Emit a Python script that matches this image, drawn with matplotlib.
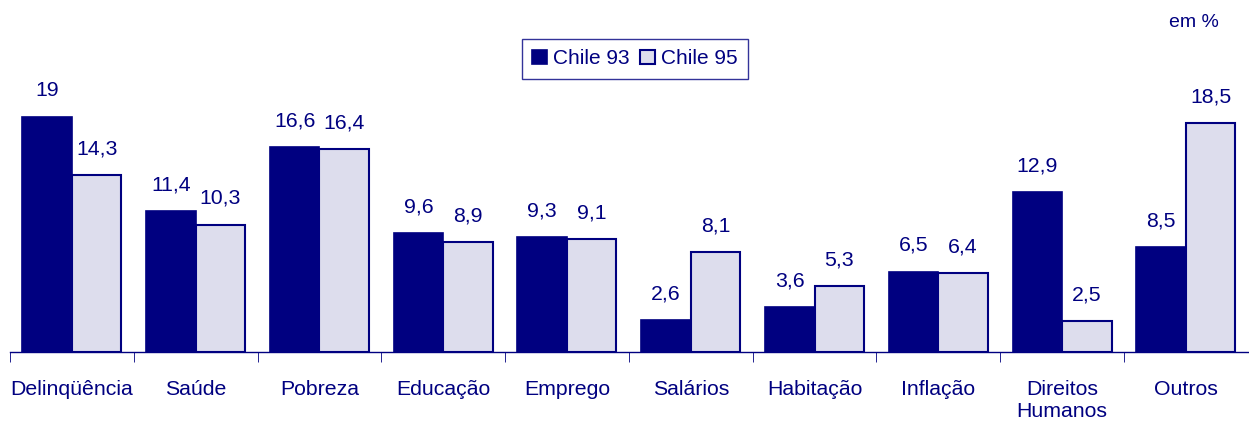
import matplotlib
matplotlib.use("Agg")
import matplotlib.pyplot as plt
import numpy as np

plt.rcParams['font.family'] = ['Liberation Sans', 'DejaVu Sans']

categorias = ['Delinqüência', 'Saúde', 'Pobreza', 'Educação', 'Emprego',
              'Salários', 'Habitação', 'Inflação', 'Direitos\nHumanos', 'Outros']
chile93 = [19, 11.4, 16.6, 9.6, 9.3, 2.6, 3.6, 6.5, 12.9, 8.5]
chile95 = [14.3, 10.3, 16.4, 8.9, 9.1, 8.1, 5.3, 6.4, 2.5, 18.5]

navy = '#000080'
claro = '#dddded'

fig = plt.figure(figsize=(12.49, 4.21), dpi=100)
ax = fig.add_axes([0.008, 0.164, 0.991, 0.836])

x = np.arange(len(categorias))
w = 0.4
b1 = ax.bar(x - w / 2, chile93, w, color=navy, edgecolor=navy, linewidth=1.2, label='Chile 93')
b2 = ax.bar(x + w / 2, chile95, w, color=claro, edgecolor=navy, linewidth=1.5, label='Chile 95')

# rótulos com vírgula decimal
for barras, vals in ((b1, chile93), (b2, chile95)):
    for r, v in zip(barras, vals):
        txt = ('%g' % v).replace('.', ',')
        ax.annotate(txt, (r.get_x() + r.get_width() / 2, v), xytext=(0, 12),
                    textcoords='offset points', ha='center', va='bottom',
                    fontsize=15.3, color=navy)

ax.set_xlim(-0.5, len(categorias) - 0.5)
ax.set_ylim(0, 28.46)

for s in ['top', 'right', 'left']:
    ax.spines[s].set_visible(False)
ax.spines['bottom'].set_color(navy)
ax.spines['bottom'].set_linewidth(1)
ax.set_yticks([])

ax.set_xticks(x)
ax.set_xticklabels(categorias, fontsize=15.3, color=navy, linespacing=1.2, va='top')
ax.tick_params(axis='x', which='major', length=0, pad=20)
ax.set_xticks(np.arange(len(categorias)) - 0.5, minor=True)
ax.tick_params(axis='x', which='minor', length=7, color=navy, direction='out')

leg = ax.legend(loc='upper left', bbox_to_anchor=(0.4135, 0.89), ncol=2, fontsize=15,
                frameon=True, fancybox=False, edgecolor=navy, handlelength=0.7,
                handleheight=0.7, handletextpad=0.3, columnspacing=0.5,
                borderpad=0.5, borderaxespad=0)
leg.get_frame().set_linewidth(1)
for t in leg.get_texts():
    t.set_color(navy)

fig.text(0.936, 0.947, 'em %', fontsize=14, color=navy, ha='left', va='center')

fig.savefig('out.png', dpi=100)
